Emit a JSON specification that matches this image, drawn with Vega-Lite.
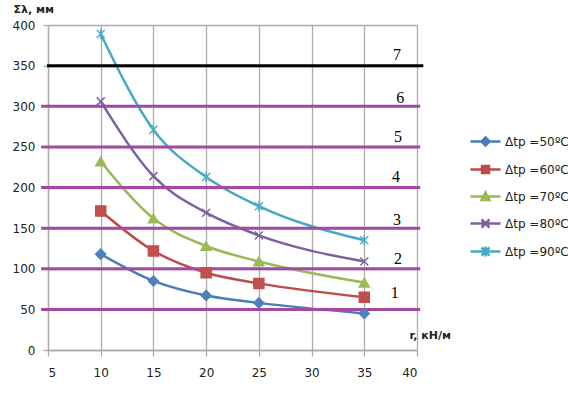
{
  "$schema": "https://vega.github.io/schema/vega-lite/v6.json",
  "width": 369,
  "height": 325,
  "autosize": {"type": "none"},
  "padding": {"left": 48, "top": 25, "right": 151, "bottom": 44},
  "background": "white",
  "config": {"view": {"stroke": null}, "font": "DejaVu Sans"},
  "datasets": {
    "series": [
      {"r": 10, "s": "Δtp =50ºC", "v": 118}, {"r": 15, "s": "Δtp =50ºC", "v": 85}, {"r": 20, "s": "Δtp =50ºC", "v": 67}, {"r": 25, "s": "Δtp =50ºC", "v": 58}, {"r": 35, "s": "Δtp =50ºC", "v": 45},
      {"r": 10, "s": "Δtp =60ºC", "v": 171}, {"r": 15, "s": "Δtp =60ºC", "v": 122}, {"r": 20, "s": "Δtp =60ºC", "v": 95}, {"r": 25, "s": "Δtp =60ºC", "v": 82}, {"r": 35, "s": "Δtp =60ºC", "v": 65},
      {"r": 10, "s": "Δtp =70ºC", "v": 232}, {"r": 15, "s": "Δtp =70ºC", "v": 162}, {"r": 20, "s": "Δtp =70ºC", "v": 128}, {"r": 25, "s": "Δtp =70ºC", "v": 109}, {"r": 35, "s": "Δtp =70ºC", "v": 83},
      {"r": 10, "s": "Δtp =80ºC", "v": 306}, {"r": 15, "s": "Δtp =80ºC", "v": 214}, {"r": 20, "s": "Δtp =80ºC", "v": 169}, {"r": 25, "s": "Δtp =80ºC", "v": 141}, {"r": 35, "s": "Δtp =80ºC", "v": 109},
      {"r": 10, "s": "Δtp =90ºC", "v": 389}, {"r": 15, "s": "Δtp =90ºC", "v": 271}, {"r": 20, "s": "Δtp =90ºC", "v": 213}, {"r": 25, "s": "Δtp =90ºC", "v": 177}, {"r": 35, "s": "Δtp =90ºC", "v": 135}
    ],
    "hlines": [
      {"n": 1, "y": 50, "x1": 4.34, "x2": 40.3},
      {"n": 2, "y": 100, "x1": 4.34, "x2": 40.3},
      {"n": 3, "y": 150, "x1": 4.34, "x2": 40.3},
      {"n": 4, "y": 200, "x1": 4.34, "x2": 40.3},
      {"n": 5, "y": 250, "x1": 4.34, "x2": 40.3},
      {"n": 6, "y": 300, "x1": 4.34, "x2": 40.3},
      {"n": 7, "y": 350, "x1": 4.9, "x2": 40.6}
    ],
    "labels": [
      {"t": "1", "x": 37.9, "y": 70},
      {"t": "2", "x": 38.2, "y": 112},
      {"t": "3", "x": 38.1, "y": 160},
      {"t": "4", "x": 38.0, "y": 213},
      {"t": "5", "x": 38.2, "y": 262},
      {"t": "6", "x": 38.4, "y": 310},
      {"t": "7", "x": 38.1, "y": 363}
    ]
  },
  "layer": [
    {
      "data": {"name": "series"},
      "mark": {"type": "line", "interpolate": "monotone", "strokeWidth": 2.5},
      "encoding": {
        "x": {
          "field": "r", "type": "quantitative",
          "scale": {"domain": [5, 40], "nice": false, "zero": false},
          "axis": {
            "values": [5, 10, 15, 20, 25, 30, 35, 40],
            "grid": true, "gridColor": "#ABABAB", "gridWidth": 1.3,
            "domainColor": "#ABABAB", "domainWidth": 1.3,
            "tickColor": "#ABABAB", "tickSize": 6, "tickWidth": 1.3,
            "labelFont": "DejaVu Sans", "labelFontSize": 12, "labelColor": "#222", "labelPadding": 11,
            "title": "r, кН/м", "titleX": 361, "titleY": -15, "titleAlign": "left", "titleBaseline": "middle",
            "titleFont": "DejaVu Sans", "titleFontSize": 11, "titleFontWeight": "bold", "titleColor": "#222"
          }
        },
        "y": {
          "field": "v", "type": "quantitative",
          "scale": {"domain": [0, 400], "nice": false},
          "axis": {
            "values": [0, 50, 100, 150, 200, 250, 300, 350, 400],
            "grid": true, "gridColor": "#ABABAB", "gridWidth": 1.3,
            "domainColor": "#ABABAB", "domainWidth": 1.3,
            "tickColor": "#ABABAB", "tickSize": 5, "tickWidth": 1.3,
            "labelFont": "DejaVu Sans", "labelFontSize": 12, "labelColor": "#222", "labelPadding": 8,
            "title": "Σλ, мм", "titleAngle": 0, "titleX": -35, "titleY": -16, "titleAlign": "left", "titleBaseline": "middle",
            "titleFont": "DejaVu Sans", "titleFontSize": 11, "titleFontWeight": "bold", "titleColor": "#222"
          }
        },
        "color": {
          "field": "s", "type": "nominal",
          "scale": {"domain": ["Δtp =50ºC", "Δtp =60ºC", "Δtp =70ºC", "Δtp =80ºC", "Δtp =90ºC"], "range": ["#4A7EBB", "#BE4B48", "#98B954", "#7D60A0", "#46AAC5"]},
          "legend": null
        }
      }
    },
    {
      "data": {"name": "hlines"},
      "transform": [{"filter": "datum.n < 7"}],
      "mark": {"type": "rule", "color": "#A349A4", "strokeWidth": 3},
      "encoding": {
        "x": {"field": "x1", "type": "quantitative"},
        "x2": {"field": "x2"},
        "y": {"field": "y", "type": "quantitative"}
      }
    },
    {
      "data": {"name": "hlines"},
      "transform": [{"filter": "datum.n == 7"}],
      "mark": {"type": "rule", "color": "#000000", "strokeWidth": 3},
      "encoding": {
        "x": {"field": "x1", "type": "quantitative"},
        "x2": {"field": "x2"},
        "y": {"field": "y", "type": "quantitative"}
      }
    },
    {
      "data": {"name": "labels"},
      "mark": {"type": "text", "font": "Liberation Serif", "fontSize": 16, "color": "#000", "baseline": "middle", "align": "center"},
      "encoding": {
        "x": {"field": "x", "type": "quantitative"},
        "y": {"field": "y", "type": "quantitative"},
        "text": {"field": "t"}
      }
    },
    {
      "data": {"name": "series"},
      "mark": {"type": "point", "filled": true, "opacity": 1, "size": 100, "strokeWidth": 1.5},
      "encoding": {
        "x": {"field": "r", "type": "quantitative"},
        "y": {"field": "v", "type": "quantitative"},
        "color": {
          "field": "s", "type": "nominal",
          "scale": {"domain": ["Δtp =50ºC", "Δtp =60ºC", "Δtp =70ºC", "Δtp =80ºC", "Δtp =90ºC"], "range": ["#4F81BD", "#C0504D", "#9BBB59", "#8064A2", "#4BACC6"]},
          "legend": null
        },
        "stroke": {
          "field": "s", "type": "nominal",
          "scale": {"domain": ["Δtp =50ºC", "Δtp =60ºC", "Δtp =70ºC", "Δtp =80ºC", "Δtp =90ºC"], "range": ["#4F81BD", "#C0504D", "#9BBB59", "#8064A2", "#4BACC6"]},
          "legend": null
        },
        "shape": {
          "field": "s", "type": "nominal",
          "scale": {"domain": ["Δtp =50ºC", "Δtp =60ºC", "Δtp =70ºC", "Δtp =80ºC", "Δtp =90ºC"], "range": ["diamond", "square", "triangle-up", "M-0.8,-0.8L0.8,0.8M-0.8,0.8L0.8,-0.8", "M-0.8,-0.8L0.8,0.8M-0.8,0.8L0.8,-0.8M0,-1L0,1"]},
          "legend": null
        }
      }
    },
    {
      "data": {"name": "series"},
      "mark": {"type": "point", "filled": true, "opacity": 0, "size": 400, "strokeWidth": 2.5},
      "encoding": {
        "x": {"field": "r", "type": "quantitative"},
        "y": {"field": "v", "type": "quantitative"},
        "color": {
          "field": "s", "type": "nominal",
          "scale": {"domain": ["Δtp =50ºC", "Δtp =60ºC", "Δtp =70ºC", "Δtp =80ºC", "Δtp =90ºC"], "range": ["#4F81BD", "#C0504D", "#9BBB59", "#8064A2", "#4BACC6"]},
          "legend": {"orient": "none", "legendX": 426, "legendY": 105, "title": null, "padding": 0, "rowPadding": 7, "labelOffset": 8, "labelFont": "DejaVu Sans", "labelFontSize": 12, "labelColor": "#222", "symbolOpacity": 1, "symbolSize": 400, "symbolStrokeWidth": 2.5}
        },
        "stroke": {
          "field": "s", "type": "nominal",
          "scale": {"domain": ["Δtp =50ºC", "Δtp =60ºC", "Δtp =70ºC", "Δtp =80ºC", "Δtp =90ºC"], "range": ["#4A7EBB", "#BE4B48", "#98B954", "#7D60A0", "#46AAC5"]},
          "legend": {"orient": "none", "legendX": 426, "legendY": 105, "title": null, "padding": 0, "rowPadding": 7, "labelOffset": 8, "labelFont": "DejaVu Sans", "labelFontSize": 12, "labelColor": "#222", "symbolOpacity": 1, "symbolSize": 400, "symbolStrokeWidth": 2.5}
        },
        "shape": {
          "field": "s", "type": "nominal",
          "scale": {"domain": ["Δtp =50ºC", "Δtp =60ºC", "Δtp =70ºC", "Δtp =80ºC", "Δtp =90ºC"], "range": [
            "M-1.5,0H1.5M0,-0.4L0.4,0L0,0.4L-0.4,0Z",
            "M-1.5,0H1.5M-0.35,-0.35H0.35V0.35H-0.35Z",
            "M-1.5,0H1.5M0,-0.4L0.4,0.35L-0.4,0.35Z",
            "M-1.5,0H1.5M-0.4,-0.4L0.4,0.4M-0.4,0.4L0.4,-0.4",
            "M-1.5,0H1.5M-0.4,-0.4L0.4,0.4M-0.4,0.4L0.4,-0.4M0,-0.5V0.5"
          ]},
          "legend": {"orient": "none", "legendX": 426, "legendY": 105, "title": null, "padding": 0, "rowPadding": 7, "labelOffset": 8, "labelFont": "DejaVu Sans", "labelFontSize": 12, "labelColor": "#222", "symbolOpacity": 1, "symbolSize": 400, "symbolStrokeWidth": 2.5}
        }
      }
    }
  ],
  "resolve": {"scale": {"color": "independent", "stroke": "independent", "shape": "independent"}}
}
